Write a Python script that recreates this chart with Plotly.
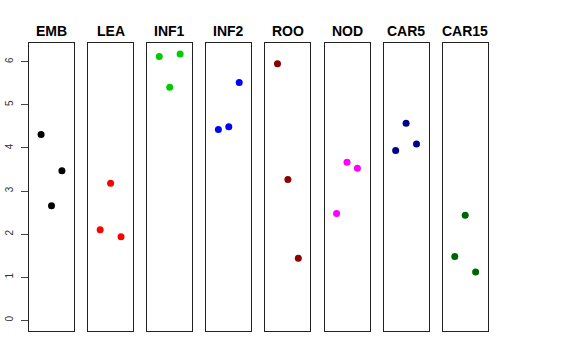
import plotly.graph_objects as go

groups = ["EMB", "LEA", "INF1", "INF2", "ROO", "NOD", "CAR5", "CAR15"]
colors = ["#000000", "#FF0000", "#00CD00", "#0000FF", "#8B0000", "#FF00FF", "#00008B", "#006400"]
positions = [1, 2, 3]
values = {
    "EMB": [4.31, 2.66, 3.47],
    "LEA": [2.10, 3.18, 1.94],
    "INF1": [6.12, 5.41, 6.18],
    "INF2": [4.43, 4.49, 5.52],
    "ROO": [5.95, 3.27, 1.44],
    "NOD": [2.48, 3.67, 3.53],
    "CAR5": [3.94, 4.57, 4.09],
    "CAR15": [1.48, 2.44, 1.12],
}
y_ticks = [0, 1, 2, 3, 4, 5, 6]

W, H = 576, 360
fig = go.Figure()
left0, step, pw = 29.0, 59.1, 45.0
ytop, ybot = 43.3, 331.0
ydom = [(H - ybot) / H, (H - ytop) / H]
ymax = max(max(v) for v in values.values())
yr = [0 - 0.04 * ymax, ymax * 1.04]

for i, (g, c) in enumerate(zip(groups, colors)):
    n = "" if i == 0 else str(i + 1)
    x0 = (left0 + step * i) / W
    x1 = (left0 + step * i + pw) / W
    fig.add_trace(go.Scatter(
        x=positions, y=values[g], mode="markers",
        marker=dict(color=c, size=7), xaxis="x" + n, yaxis="y" + n,
        showlegend=False, hoverinfo="skip"))
    fig.update_layout(**{
        "xaxis" + n: dict(domain=[x0, x1], range=[-0.16, 4.16], showline=True, mirror=True,
                          linecolor="#222", linewidth=1, showgrid=False, zeroline=False,
                          showticklabels=False, ticks="", anchor="y" + n, automargin=False),
        "yaxis" + n: dict(domain=ydom, range=yr, showline=True, mirror=True,
                          linecolor="#222", linewidth=1, showgrid=False, zeroline=False,
                          anchor="x" + n, automargin=False,
                          tickvals=y_ticks if i == 0 else [],
                          ticks="outside" if i == 0 else "",
                          ticklen=7, tickcolor="#444",
                          ticklabelstandoff=4,
                          showticklabels=(i == 0), tickangle=-90,
                          tickfont=dict(family="Liberation Sans, Arial", size=10, color="#333")),
    })
    fig.add_annotation(x=(x0 + x1) / 2, y=(H - 30.5) / H, xref="paper", yref="paper",
                       text="<b>" + g + "</b>", showarrow=False,
                       font=dict(family="Liberation Sans, Arial", size=14, color="#000"),
                       xanchor="center", yanchor="middle")

fig.update_layout(width=W, height=H, margin=dict(l=0, r=0, t=0, b=0),
                  plot_bgcolor="white", paper_bgcolor="white")
fig.write_html("out.html", config={"displayModeBar": False},
               post_script="document.body.style.margin='0';")
